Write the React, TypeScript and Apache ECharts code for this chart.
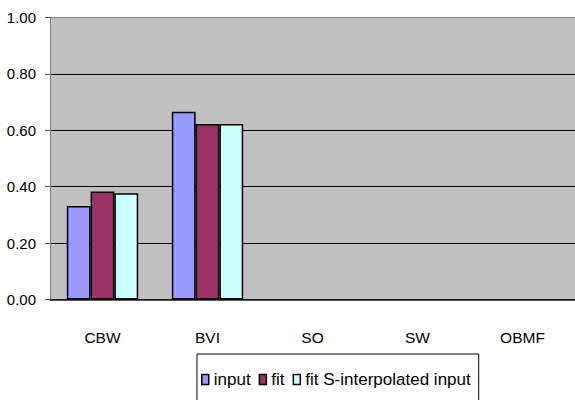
import React, { useEffect, useRef } from "react";
import * as echarts from "echarts";

const categories = ["CBW", "BVI", "SO", "SW", "OBMF"];
const inputValues = [0.332, 0.666, 0, 0, 0];
const fitValues = [0.383, 0.622, 0, 0, 0];
const interpolatedValues = [0.377, 0.622, 0, 0, 0];
const yTicks = { min: 0, max: 1, interval: 0.2 };

const FONT = "'Liberation Sans', Arial, sans-serif";

export default function App() {
  const ref = useRef<HTMLDivElement>(null);

  useEffect(() => {
    if (!ref.current) return;
    const chart = echarts.init(ref.current, undefined, { renderer: "svg" });
    const barStyle = (color: string) => ({
      color,
      borderColor: "#000",
      borderWidth: 1.5,
    });
    const seriesDefs = [
      { name: "input", data: inputValues, color: "#9999FF" },
      { name: "fit", data: fitValues, color: "#993366" },
      { name: "fit S-interpolated input", data: interpolatedValues, color: "#CCFFFF" },
    ];
    chart.setOption({
      animation: false,
      backgroundColor: "#fff",
      grid: {
        left: 50,
        right: 0,
        top: 17.5,
        bottom: 100.5,
        show: true,
        backgroundColor: "#C0C0C0",
        borderWidth: 0,
      },
      legend: {
        left: 197,
        top: 354,
        itemWidth: 7,
        itemHeight: 10,
        itemGap: 8,
        padding: [17, 8, 17, 4],
        borderColor: "#000",
        borderWidth: 1,
        icon: "rect",
        textStyle: { fontFamily: FONT, fontSize: 17, color: "#000" },
        data: seriesDefs.map((s) => ({ name: s.name, itemStyle: barStyle(s.color) })),
      },
      xAxis: {
        type: "category",
        data: categories,
        axisLine: { lineStyle: { color: "#222", width: 1.5 } },
        axisTick: { length: 8, lineStyle: { color: "#222" } },
        axisLabel: {
          fontFamily: FONT,
          fontSize: 15.5,
          color: "#000",
          margin: 30,
        },
      },
      yAxis: {
        type: "value",
        min: yTicks.min,
        max: yTicks.max,
        interval: yTicks.interval,
        axisLine: { show: true, lineStyle: { color: "#808080", width: 1 } },
        axisTick: { show: true, length: 5, lineStyle: { color: "#555" } },
        splitLine: {
          lineStyle: {
            color: ["#000", "#000", "#000", "#000", "#000", "#808080"],
            width: 1,
          },
        },
        axisLabel: {
          fontFamily: FONT,
          fontSize: 15,
          color: "#000",
          margin: 14,
          formatter: (v: number) => v.toFixed(2),
        },
      },
      series: seriesDefs.map((s) => ({
        name: s.name,
        type: "bar",
        data: s.data.map((v) => (v === 0 ? { value: v, itemStyle: { borderWidth: 0 } } : v)),
        barGap: "0%",
        barCategoryGap: "32%",
        itemStyle: barStyle(s.color),
      })),
    });
    return () => chart.dispose();
  }, []);

  return <div ref={ref} style={{ width: 575, height: 400, position: "absolute", left: 0, top: 0 }} />;
}
